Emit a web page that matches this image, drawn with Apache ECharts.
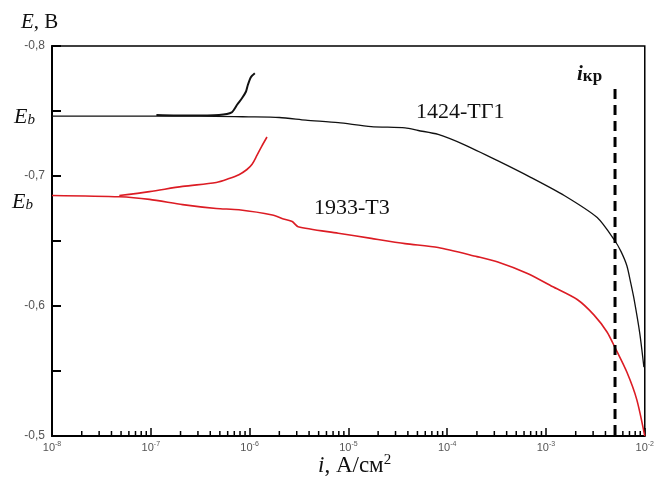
<!DOCTYPE html>
<html>
<head>
<meta charset="utf-8">
<script src="https://cdn.jsdelivr.net/npm/echarts@6/dist/echarts.min.js"></script>
<style>html,body{margin:0;padding:0;background:#fff}#c{width:657px;height:484px}</style>
</head>
<body>
<div id="c"></div>
<script>
// X tick exponents (log axis, decades)
const xTickExponents = [-8, -7, -6, -5, -4, -3, -2];
// Y ticks
const yTicks = [-0.8, -0.7, -0.6, -0.5];

// 1424-ТГ1 cathodic (main) branch: [i, E]
const black1424Main = [
  [1e-8,-0.746],[3e-8,-0.746],[1e-7,-0.746],[3.1e-7,-0.746],[9.8e-7,-0.7455],
  [2e-6,-0.745],[3.7e-6,-0.743],[7.9e-6,-0.741],[1.7e-5,-0.738],[3.75e-5,-0.737],
  [5.1e-5,-0.735],[8.1e-5,-0.732],[1.5e-4,-0.724],[3.2e-4,-0.712],[7e-4,-0.699],
  [1.53e-3,-0.685],[3.3e-3,-0.668],[5e-3,-0.650],[5.74e-3,-0.642],[6.59e-3,-0.631],
  [7.2e-3,-0.618],[7.76e-3,-0.606],[8.9e-3,-0.579],[9.8e-3,-0.553]
];
// 1424-ТГ1 anodic branch
const black1424Anodic = [
  [1.14e-7,-0.747],[2.45e-7,-0.7465],[4.9e-7,-0.747],[6.6e-7,-0.749],[7.5e-7,-0.755],
  [8.4e-7,-0.760],[9.2e-7,-0.765],[9.6e-7,-0.770],[1.03e-6,-0.776],[1.13e-6,-0.779]
];
// 1933-Т3 cathodic (main) branch
const red1933Main = [
  [1e-8,-0.685],[4.8e-8,-0.684],[9.7e-8,-0.682],[2.1e-7,-0.678],[4.6e-7,-0.675],
  [7.8e-7,-0.674],[1.7e-6,-0.670],[2.2e-6,-0.667],[2.7e-6,-0.665],[3.1e-6,-0.661],
  [7.9e-6,-0.656],[1.7e-5,-0.652],[3.75e-5,-0.648],[8.1e-5,-0.645],[2.0e-4,-0.638],
  [3.2e-4,-0.634],[6.5e-4,-0.625],[1.16e-3,-0.615],[2.07e-3,-0.605],[3.07e-3,-0.593],
  [4.15e-3,-0.580],[5e-3,-0.568],[6.6e-3,-0.549],[8.3e-3,-0.528],[1e-2,-0.5]
];
// 1933-Т3 anodic branch
const red1933Anodic = [
  [4.8e-8,-0.685],[9.7e-8,-0.688],[2.1e-7,-0.692],[4.6e-7,-0.695],[6.2e-7,-0.698],
  [7.8e-7,-0.701],[9.4e-7,-0.705],[1.06e-6,-0.709],[1.19e-6,-0.716],[1.33e-6,-0.723],[1.5e-6,-0.730]
];
// critical current marker
const iCrit = 5e-3;
const iCritE = [-0.767, -0.5];

// minor tick values on log axis (2..9 per decade)
const minorTicks = [];
for (let k = 0; k < xTickExponents.length - 1; k++) {
  for (let m = 2; m <= 9; m++) minorTicks.push([m * Math.pow(10, xTickExponents[k]), -0.5]);
}

const chart = echarts.init(document.getElementById('c'), null, {renderer: 'canvas'});
const serif = '"Liberation Serif", "DejaVu Serif", serif';
const sans = '"Liberation Sans", Arial, sans-serif';

chart.setOption({
  animation: false,
  backgroundColor: '#fff',
  grid: {left: 52, right: 8, top: 46, bottom: 48, show: true, borderColor: '#000', borderWidth: 1.5, backgroundColor: 'transparent'},
  xAxis: {
    type: 'log', logBase: 10, min: 1e-8, max: 1e-2,
    axisLine: {show: true, lineStyle: {color: '#000', width: 2}},
    axisTick: {show: true, inside: true, length: 8, lineStyle: {color: '#000', width: 1.5}},
    splitLine: {show: false},
    axisLabel: {
      margin: 5, color: '#555', fontFamily: sans,
      formatter: function (v) {
        const e = Math.round(Math.log10(v));
        return '{b|10}{s|' + e + '}';
      },
      rich: {
        b: {fontSize: 11, fontFamily: sans, color: '#555'},
        s: {fontSize: 7, fontFamily: sans, color: '#555', verticalAlign: 'top', padding: [0, 0, 7, 0]}
      }
    }
  },
  yAxis: {
    type: 'value', min: -0.8, max: -0.5, interval: 0.1, inverse: true,
    axisLine: {show: true, lineStyle: {color: '#000', width: 2}},
    axisTick: {show: true, inside: true, length: 9, lineStyle: {color: '#000', width: 2}},
    minorTick: {show: true, splitNumber: 2, length: 9, lineStyle: {color: '#000', width: 2}},
    splitLine: {show: false},
    axisLabel: {
      margin: 7, fontSize: 12, color: '#555', fontFamily: sans,
      formatter: function (v) { return v.toFixed(1).replace('.', ','); }
    }
  },
  series: [
    {type: 'line', data: black1424Main, showSymbol: false, smooth: 0.25, lineStyle: {color: '#111', width: 1.3}, z: 3},
    {type: 'line', data: black1424Anodic, showSymbol: false, smooth: 0.2, lineStyle: {color: '#111', width: 2}, z: 3},
    {type: 'line', data: red1933Main, showSymbol: false, smooth: 0.25, lineStyle: {color: '#dc1c24', width: 1.6}, z: 3},
    {type: 'line', data: red1933Anodic, showSymbol: false, smooth: 0.3, lineStyle: {color: '#dc1c24', width: 1.6}, z: 3},
    {type: 'line', data: iCritE.map(e => [iCrit, e]), showSymbol: false,
      lineStyle: {color: '#000', width: 3, type: [10, 6]}, z: 4},
    {type: 'custom', data: minorTicks, z: 5, clip: false,
      renderItem: function (params, api) {
        const p = api.coord([api.value(0), api.value(1)]);
        return {type: 'line', shape: {x1: p[0], y1: p[1], x2: p[0], y2: p[1] - 5},
          style: {stroke: '#000', lineWidth: 1.5}};
      }
    }
  ],
  graphic: [
    {type: 'text', left: 21, top: 12, style: {
      text: '{i|E}{n|, В}', rich: {
        i: {fontFamily: serif, fontSize: 21, fontStyle: 'italic', fill: '#111'},
        n: {fontFamily: serif, fontSize: 21, fill: '#111'}}}},
    {type: 'text', left: 318, top: 453, style: {
      text: '{i|i}{n|, А/см}{s|2}', rich: {
        i: {fontFamily: serif, fontSize: 23, fontStyle: 'italic', fill: '#111'},
        n: {fontFamily: serif, fontSize: 23, fill: '#111'},
        s: {fontFamily: serif, fontSize: 15, fill: '#111', verticalAlign: 'top', padding: [0, 0, 11, 0]}}}},
    {type: 'text', left: 14, top: 106, style: {
      text: '{e|E}{b|b}', rich: {
        e: {fontFamily: serif, fontSize: 22, fontStyle: 'italic', fill: '#111'},
        b: {fontFamily: serif, fontSize: 15, fontStyle: 'italic', fill: '#111', verticalAlign: 'bottom', padding: [7, 0, 0, 0]}}}},
    {type: 'text', left: 12, top: 191, style: {
      text: '{e|E}{b|b}', rich: {
        e: {fontFamily: serif, fontSize: 22, fontStyle: 'italic', fill: '#111'},
        b: {fontFamily: serif, fontSize: 15, fontStyle: 'italic', fill: '#111', verticalAlign: 'bottom', padding: [7, 0, 0, 0]}}}},
    {type: 'text', left: 577, top: 64, style: {
      text: '{i|i}{s|кр}', rich: {
        i: {fontFamily: serif, fontSize: 21, fontStyle: 'italic', fontWeight: 'bold', fill: '#111'},
        s: {fontFamily: serif, fontSize: 17, fontWeight: 'bold', fill: '#111', verticalAlign: 'bottom', padding: [4, 0, 0, 0]}}}},
    {type: 'text', left: 416, top: 101, style: {text: '1424-ТГ1', fontFamily: serif, fontSize: 22, fill: '#111'}},
    {type: 'text', left: 314, top: 197, style: {text: '1933-Т3', fontFamily: serif, fontSize: 22, fill: '#111'}}
  ]
});
</script>
</body>
</html>
